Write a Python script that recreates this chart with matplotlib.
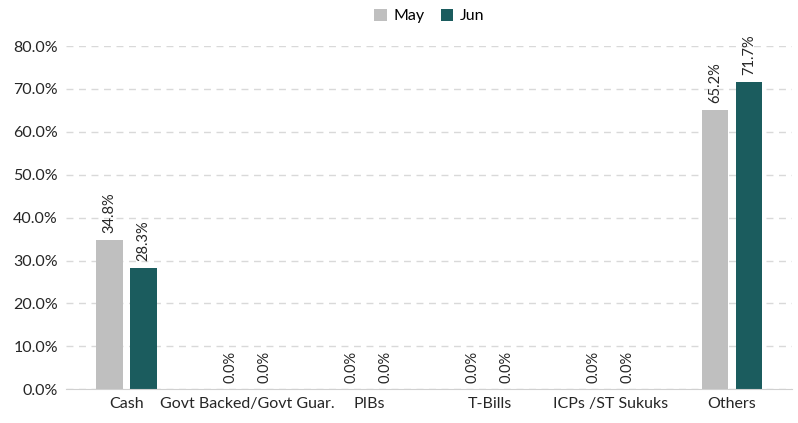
import matplotlib
matplotlib.use('Agg')
import matplotlib.pyplot as plt
import numpy as np

categories = ['Cash', 'Govt Backed/Govt Guar.', 'PIBs', 'T-Bills', 'ICPs /ST Sukuks', 'Others']
may = [34.8, 0.0, 0.0, 0.0, 0.0, 65.2]
jun = [28.3, 0.0, 0.0, 0.0, 0.0, 71.7]
series_names = ['May', 'Jun']
yticks = [0, 10, 20, 30, 40, 50, 60, 70, 80]

plt.rcParams['font.family'] = ['Lato', 'DejaVu Sans']

fig = plt.figure(figsize=(7.98, 4.23), dpi=100)
ax = fig.add_axes([0.083, 0.080, 0.910, 0.811])

x = np.arange(len(categories))
w = 0.22
off = 0.14
b1 = ax.bar(x - off, may, w, color='#BFBFBF', label=series_names[0], zorder=3)
b2 = ax.bar(x + off, jun, w, color='#1B5C5E', label=series_names[1], zorder=3)

# rotated value labels above each bar
for bars, vals in ((b1, may), (b2, jun)):
    for bar, v in zip(bars, vals):
        ax.text(bar.get_x() + bar.get_width() / 2, v + 1.5, f'{v:.1f}%',
                rotation=90, ha='center', va='bottom', fontsize=10.5, color='#262626')

ax.set_xlim(-0.5, len(categories) - 0.5)
ax.set_ylim(0, 80)
ax.set_yticks(yticks)
ax.set_yticklabels([f'{t:.1f}%' for t in yticks], fontsize=11.5, color='#262626')
ax.set_xticks(x)
ax.set_xticklabels(categories, fontsize=11.5, color='#262626')
ax.tick_params(axis='both', length=0, pad=6)
ax.yaxis.grid(True, linestyle=(0, (5, 4)), color='#D9D9D9', linewidth=1, zorder=0)

for s in ['top', 'right', 'left']:
    ax.spines[s].set_visible(False)
ax.spines['bottom'].set_color('#D0D0D0')
ax.spines['bottom'].set_zorder(4)

ax.legend(loc='center', bbox_to_anchor=(0.5, 1.088), ncol=2, frameon=False,
          fontsize=11.5, handlelength=0.8, handleheight=0.8, handletextpad=0.4,
          columnspacing=1.0)

fig.savefig('out.png', dpi=100)
plt.close(fig)
